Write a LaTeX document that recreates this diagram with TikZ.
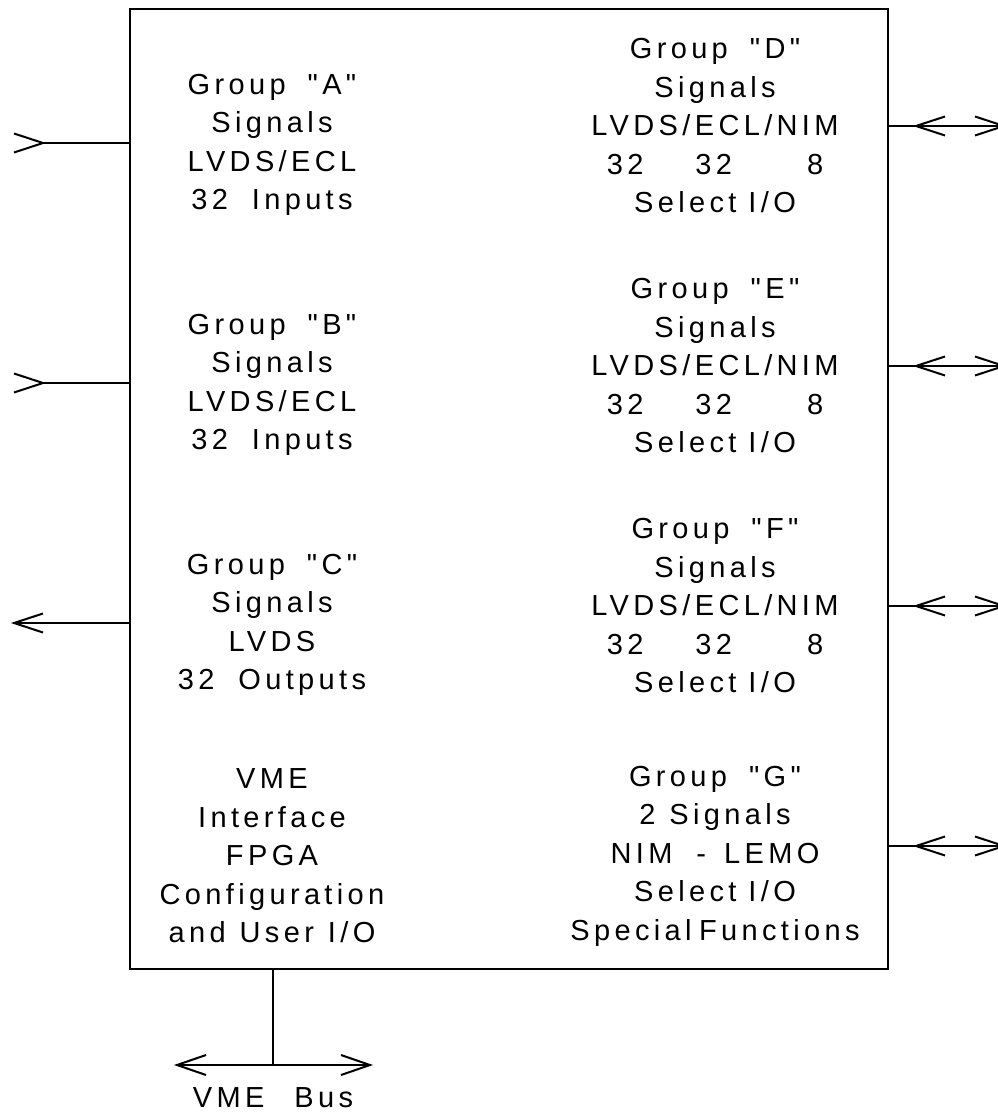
\documentclass[tikz,border=0pt]{standalone}
\usepackage{fontspec}
\newfontfamily\lblfont{Liberation Sans}[LetterSpace=15]
\begin{document}
\begin{tikzpicture}[x=1pt,y=-1pt,line width=2pt,
  lbl/.style={align=center,inner sep=0pt,font=\lblfont\fontsize{29}{38.5}\selectfont},
  boxstyle/.style={draw,line width=2pt,inner sep=0pt,outer sep=0pt,anchor=north west,minimum width=758pt,minimum height=960pt}]
\useasboundingbox (0,0) rectangle (997,1116);
\node[boxstyle] (box) at (130,9) {};
% left column texts
\node[lbl] (ga) at (272,145) {Group\hspace{22pt}"A"\\Signals\\LVDS/ECL\\32\hspace{24pt}Inputs};
\node[lbl] (gb) at (272,385) {Group\hspace{22pt}"B"\\Signals\\LVDS/ECL\\32\hspace{24pt}Inputs};
\node[lbl] (gc) at (272,625) {Group\hspace{22pt}"C"\\Signals\\LVDS\\32\hspace{24pt}Outputs};
\node[lbl] (gv) at (272,856) {VME\\Interface\\FPGA\\Configuration\\and\hspace{14pt}User\hspace{14pt}I/O};
% right column texts
\node[lbl] (gd) at (715,126) {Group\hspace{22pt}"D"\\Signals\\LVDS/ECL/NIM\\32\hspace{52pt}32\hspace{75pt}8\\Select\hspace{12pt}I/O};
\node[lbl] (ge) at (715,366) {Group\hspace{22pt}"E"\\Signals\\LVDS/ECL/NIM\\32\hspace{52pt}32\hspace{75pt}8\\Select\hspace{12pt}I/O};
\node[lbl] (gf) at (715,606) {Group\hspace{22pt}"F"\\Signals\\LVDS/ECL/NIM\\32\hspace{52pt}32\hspace{75pt}8\\Select\hspace{12pt}I/O};
\node[lbl] (gg) at (715,856) {Group\hspace{22pt}"G"\\2\hspace{14pt}Signals\\NIM\hspace{24pt}-\hspace{18pt}LEMO\\Select\hspace{12pt}I/O\\Special\hspace{-5pt} Functions};
% left connectors
\coordinate (ta) at (43,143);
\coordinate (tb) at (43,383);
\coordinate (tc) at (14,623);
\draw (ta) -- (ta -| box.west);
\draw (ta) ++(-29,-9.5) -- (ta) -- ++(-29,9.5);
\draw (tb) -- (tb -| box.west);
\draw (tb) ++(-29,-9.5) -- (tb) -- ++(-29,9.5);
\draw (tc) -- (tc -| box.west);
\draw (tc) ++(29,-9.5) -- (tc) -- ++(29,9.5);
% right connectors
\foreach \n/\yy in {d/126,e/366,f/606,g/846}{
  \coordinate (l\n) at (916,\yy);
  \coordinate (r\n) at (1004,\yy);
  \draw (l\n -| box.east) -- (r\n);
  \draw (l\n) ++(29,-9.5) -- (l\n) -- ++(29,9.5);
  \draw (r\n) ++(-29,-9.5) -- (r\n) -- ++(-29,9.5);
}
% VME bus
\coordinate (bj) at (273,1065);
\coordinate (bl) at (177,1065);
\coordinate (br) at (370,1065);
\draw (bj |- box.south) -- (bj);
\draw (bl) -- (br);
\draw (bl) ++(29,-10) -- (bl) -- ++(29,10);
\draw (br) ++(-29,-10) -- (br) -- ++(-29,10);
\node[lbl] (vb) at (273,1098) {VME\hspace{30pt}Bus};
\end{tikzpicture}
\end{document}
